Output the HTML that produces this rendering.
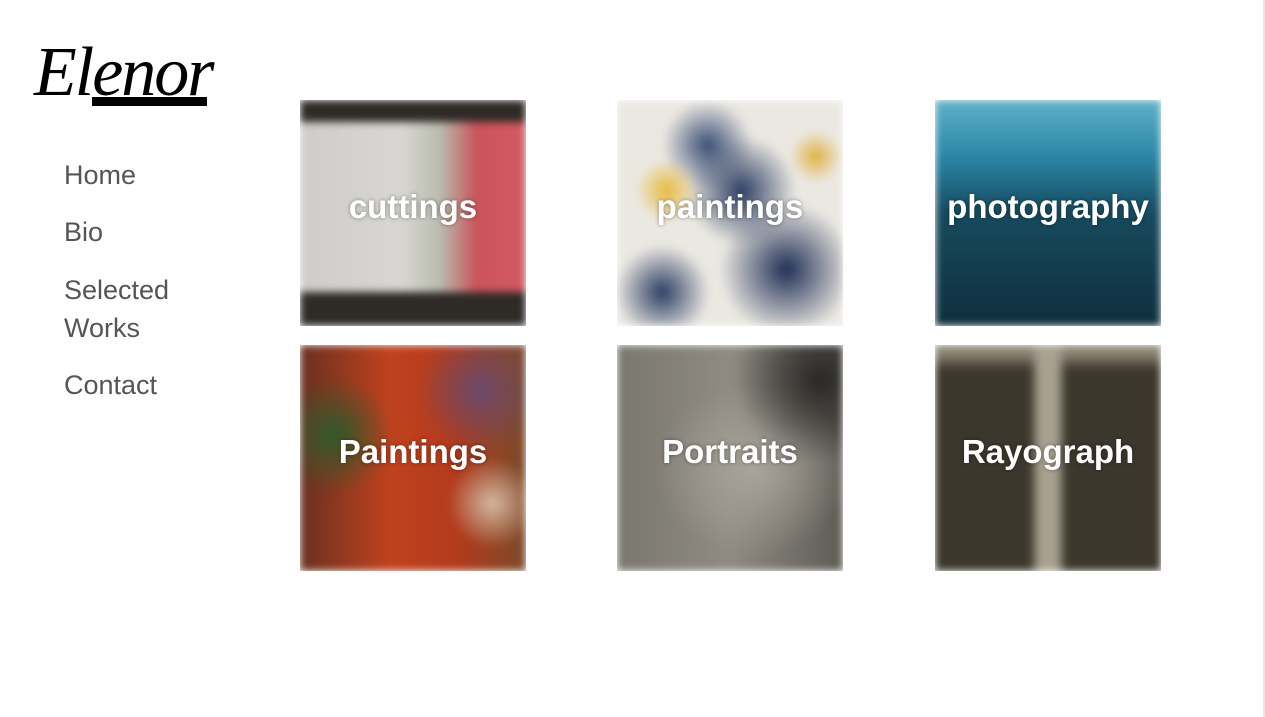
<!DOCTYPE html>
<html><head><meta charset="utf-8"><style>
html,body{margin:0;padding:0;width:1265px;height:717px;overflow:hidden;background:#fff;font-family:"Liberation Sans",sans-serif;}
.logo{position:absolute;left:34px;top:33px;font-family:"Liberation Serif",serif;font-style:italic;font-size:70px;color:#000;letter-spacing:-2px;}
.bar{position:absolute;left:92px;top:97px;width:115px;height:9px;background:#000;}
.nav a{position:absolute;left:64px;color:#555;font-size:27px;text-decoration:none;line-height:38px;}
.tile{position:absolute;width:226px;height:226px;overflow:hidden;}
.img{position:absolute;inset:0;filter:blur(4px);}
.lbl{position:absolute;left:0;right:0;top:88px;text-align:center;color:#fff;font-size:33px;font-weight:bold;text-shadow:0 0 4px rgba(0,0,0,.4);}
.scroll{position:absolute;left:1263px;top:0;width:2px;height:717px;background:#e6e6e6;}
</style></head><body>
<div class="logo">Elenor</div>
<div class="bar"></div>
<nav class="nav">
<a style="top:156px">Home</a>
<a style="top:213px">Bio</a>
<a style="top:271px">Selected<br>Works</a>
<a style="top:366px">Contact</a>
</nav>

<div class="tile" style="left:300px;top:100px">
<div class="img" style="background:linear-gradient(#2e2a26 0 22px,transparent 22px 192px,#2e2a26 192px),linear-gradient(90deg,#cfcdca 0,#d8d6d2 45%,#b9bcae 62%,#c9545a 78%,#d45a62 100%)"></div>
<div class="lbl">cuttings</div></div>

<div class="tile" style="left:617px;top:100px">
<div class="img" style="background:radial-gradient(circle at 22% 40%,#e8b93a 0,transparent 14%),radial-gradient(circle at 20% 85%,#2c3e63 0,transparent 18%),radial-gradient(circle at 55% 40%,#2c3e63 0,transparent 30%),radial-gradient(circle at 75% 75%,#1f2f55 0,transparent 28%),radial-gradient(circle at 40% 20%,#3a4e75 0,transparent 20%),radial-gradient(circle at 88% 25%,#e0b040 0,transparent 10%),#ebe8e2"></div>
<div class="lbl">paintings</div></div>

<div class="tile" style="left:935px;top:100px">
<div class="img" style="background:linear-gradient(#5fb0c8 0,#2a86a6 25%,#174a5e 50%,#0f2f3d 100%)"></div>
<div class="lbl">photography</div></div>

<div class="tile" style="left:300px;top:345px">
<div class="img" style="background:radial-gradient(circle at 15% 40%,#2f5a2a 0,transparent 25%),radial-gradient(circle at 80% 20%,#6a4a6a 0,transparent 25%),radial-gradient(circle at 85% 70%,#d6b8a0 0,transparent 18%),linear-gradient(90deg,#6a3020,#c0421e 40%,#b23a1c 70%,#7a4a2a)"></div>
<div class="lbl">Paintings</div></div>

<div class="tile" style="left:617px;top:345px">
<div class="img" style="background:radial-gradient(circle at 90% 15%,#2a2826 0,transparent 30%),radial-gradient(ellipse at 60% 55%,#a9a59c 0,transparent 50%),linear-gradient(90deg,#7a776f,#8f8b83 50%,#5e5b55)"></div>
<div class="lbl">Portraits</div></div>

<div class="tile" style="left:935px;top:345px">
<div class="img" style="background:linear-gradient(90deg,transparent 42%,#a8a190 46% 54%,transparent 58%),linear-gradient(#8f8878 0 8px,transparent 25px),#3b372c"></div>
<div class="lbl">Rayograph</div></div>

<div class="scroll"></div>
</body></html>
